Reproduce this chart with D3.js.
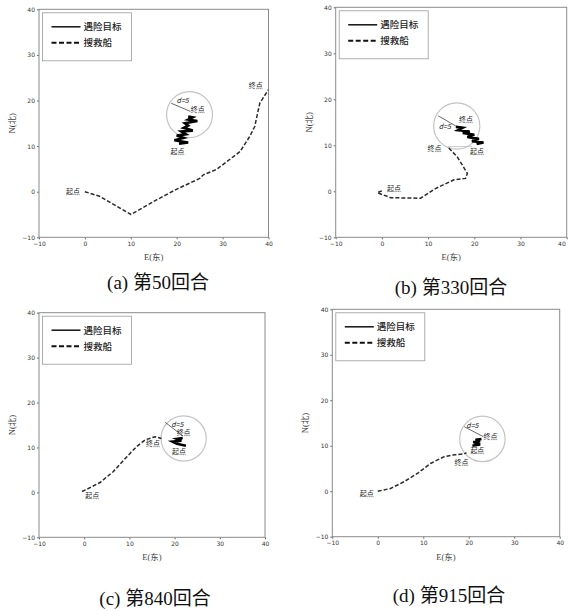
<!DOCTYPE html>
<html>
<head>
<meta charset="utf-8">
<script src="https://cdn.jsdelivr.net/npm/d3@7"></script>
<style>
  body { margin: 0; background: #fff; }
  .tick text { font-family: "DejaVu Sans", sans-serif; font-size: 6px; fill: #333; }
  .lbl { font-family: "Noto Sans CJK SC", sans-serif; font-size: 7px; fill: #222; }
  .axisText { font-family: "Liberation Serif", "Noto Sans CJK SC", serif; font-size: 8.5px; fill: #444; }
  .legText { font-family: "Noto Sans CJK SC", sans-serif; font-size: 9.5px; font-weight: 500; fill: #222; }
  .caption { font-family: "Liberation Serif", "Noto Sans CJK SC", serif; font-size: 19px; fill: #111; }
</style>
</head>
<body>
<div id="chart"></div>
<script>
// ticks shared by every panel
var tickValues = [-10, 0, 10, 20, 30, 40];
var captions = ["(a) 第50回合", "(b) 第330回合", "(c) 第840回合", "(d) 第915回合"];
var legendNames = ["遇险目标", "搜救船"];

// rescue ship tracks (E, N)
var shipA = [[0, 0], [3.2, -1], [10, -5], [15.6, -1.8], [19.9, 0.5], [25, 2.9], [25.8, 3.7], [28.7, 4.9], [33.8, 8.8], [35.9, 12.1], [37, 14.3], [38.1, 19.4], [40, 22.4]];
var shipB = [[0, 0.1], [-1, -0.3], [1.9, -1.4], [8.4, -1.5], [11.6, 0.6], [15.6, 2.5], [18.1, 2.8], [18.5, 3.9], [16.3, 7.5], [14.2, 9.7]];
var shipC = [[-0.5, 0.2], [0.6, 0.7], [3.5, 2.2], [6.4, 4.6], [9.4, 7.9], [11.6, 10.2], [13.5, 11.7], [15.7, 12.4], [17.1, 12]];
var shipD = [[0, 0], [2.8, 0.6], [5.8, 2.1], [8.7, 3.9], [11.6, 6.1], [14.6, 7.6], [16.8, 8], [19, 8.2], [19.5, 8.5]];

// distressed target tracks
var targetA = [[20.5, 10.5], [22.5, 10.8], [19.5, 11.3], [21.5, 11.8], [20, 12.3], [22, 12.6], [21, 13.2], [23.5, 13.4], [21.5, 14], [22.5, 14.5], [21.8, 15], [24.5, 15.5], [22.5, 15.8], [23.5, 16.3], [22.5, 16.5]];
var targetB = [[20.5, 10.3], [22, 10.6], [19.5, 10.9], [21, 11.4], [18.5, 11.8], [20, 12.3], [17.5, 12.7], [19, 13], [16.5, 13.3], [17.5, 13.8], [16, 14]];
var targetC = [[22.5, 10.4], [20.5, 10.8], [19.5, 11.3], [21.5, 11.5], [20.5, 11.9], [21.8, 12.1]];
var targetD = [[20.8, 10], [22.5, 10.3], [21, 10.8], [22.5, 11], [21.5, 11.3], [22.8, 11.5]];

// search circle centre, radius and the radius marker line
var circles = [[22.8, 16.9, 5], [16.2, 14.2, 5], [22, 12, 5], [23, 11.5, 5]];
var radiusLines = [[[18.8, 19.4], [23, 17.6]], [[12.2, 16.4], [16, 14.2]], [[17.9, 15.6], [21.8, 12.6]], [[19, 14.2], [23.2, 12]]];

// point labels: [text, E, N]
var labelsA = [["起点", -2.6, 0], ["终点", 37.2, 23.2], ["起点", 20.2, 8.7], ["终点", 24.6, 18], ["d=5", 21.3, 19.9]];
var labelsB = [["起点", 2.6, 0.6], ["终点", 11.4, 9.3], ["起点", 20.6, 8.6], ["终点", 18.2, 15.5], ["d=5", 13.6, 14]];
var labelsC = [["起点", 1.8, -0.7], ["终点", 15.2, 10.8], ["起点", 21, 9.1], ["终点", 22, 13.3], ["d=5", 20.6, 15.2]];
var labelsD = [["起点", -2.4, -0.5], ["终点", 18.4, 6.3], ["起点", 21.9, 8.9], ["终点", 24.8, 12.1], ["d=5", 20.8, 14.4]];

var panels = [
    { box: [39, 268.5, 9.3, 237.3], ship: shipA, target: targetA, labels: labelsA, capX: 158, capY: 289 },
    { box: [335.7, 566.7, 7.3, 237.3], ship: shipB, target: targetB, labels: labelsB, capX: 451, capY: 294, link: true },
    { box: [39, 265, 312.7, 537.3], ship: shipC, target: targetC, labels: labelsC, capX: 155, capY: 605 },
    { box: [332.3, 559.7, 309.3, 536.7], ship: shipD, target: targetD, labels: labelsD, capX: 449, capY: 602 }
];

var svg = d3.select("#chart")
    .append("svg")
    .attr("width", 568)
    .attr("height", 611);

panels.forEach(function(p, i) {
    var left = p.box[0], right = p.box[1], top = p.box[2], bottom = p.box[3];

    var x = d3.scaleLinear().domain([-10, 40]).range([left, right]);
    var y = d3.scaleLinear().domain([-10, 40]).range([bottom, top]);

    var g = svg.append("g");

    g.append("clipPath")
        .attr("id", "clip" + i)
        .append("rect")
        .attr("x", left).attr("y", top)
        .attr("width", right - left).attr("height", bottom - top);

    // axes with small outward ticks
    var xAxis = g.append("g")
        .attr("transform", `translate(0, ${bottom})`)
        .call(d3.axisBottom(x).tickValues(tickValues).tickSize(2).tickPadding(2))
        .call(a => a.select(".domain").remove())
        .call(a => a.selectAll("line").attr("stroke", "#666"));

    // last label would run off the page on the right-hand panels
    if (x(40) + 6 > 568) {
        xAxis.selectAll(".tick text").filter(d => d == 40).attr("text-anchor", "end").attr("dx", "-1.5");
    }

    g.append("g")
        .attr("transform", `translate(${left}, 0)`)
        .call(d3.axisLeft(y).tickValues(tickValues).tickSize(2).tickPadding(2))
        .call(a => a.select(".domain").remove())
        .call(a => a.selectAll("line").attr("stroke", "#666"));

    g.append("rect")
        .attr("x", left).attr("y", top)
        .attr("width", right - left).attr("height", bottom - top)
        .attr("fill", "none")
        .attr("stroke", "#8a8a8a")
        .attr("stroke-width", 1);

    // axis labels
    g.append("text")
        .attr("class", "axisText")
        .attr("x", (left + right) / 2)
        .attr("y", bottom + 23)
        .attr("text-anchor", "middle")
        .text("E(东)");

    g.append("text")
        .attr("class", "axisText")
        .attr("transform", `translate(${left - 27}, ${(top + bottom) / 2}) rotate(-90)`)
        .attr("text-anchor", "middle")
        .attr("dy", "0.35em")
        .text("N(北)");

    var plot = g.append("g").attr("clip-path", `url(#clip${i})`);
    var line = d3.line().x(d => x(d[0])).y(d => y(d[1]));

    // search circle
    var c = circles[i];
    plot.append("circle")
        .attr("cx", x(c[0]))
        .attr("cy", y(c[1]))
        .attr("r", x(c[2]) - x(0))
        .attr("fill", "none")
        .attr("stroke", "#c4c4c4")
        .attr("stroke-width", 1.2);

    plot.append("path")
        .attr("d", line(radiusLines[i]))
        .attr("fill", "none")
        .attr("stroke", "#444")
        .attr("stroke-width", 0.8);

    if (p.link) {
        plot.append("path")
            .attr("d", line([p.ship[p.ship.length - 1], [p.target[0][0] - 1, p.ship[p.ship.length - 1][1]]]))
            .attr("fill", "none")
            .attr("stroke", "#bbb")
            .attr("stroke-width", 0.8);
    }

    plot.append("path")
        .attr("d", line(p.target))
        .attr("fill", "none")
        .attr("stroke", "#000")
        .attr("stroke-width", 2.6)
        .attr("stroke-linejoin", "miter");

    plot.append("path")
        .attr("d", line(p.ship))
        .attr("fill", "none")
        .attr("stroke", "#2a2a2a")
        .attr("stroke-width", 1.5)
        .attr("stroke-dasharray", "4,2");

    // point labels
    g.selectAll(".lbl" + i)
        .data(p.labels)
        .enter()
        .append("text")
        .attr("class", "lbl")
        .attr("x", d => x(d[1]))
        .attr("y", d => y(d[2]))
        .attr("dy", "0.35em")
        .attr("text-anchor", "middle")
        .attr("font-style", d => d[0] == "d=5" ? "italic" : null)
        .text(d => d[0]);

    // legend
    var lx = left + 3.5, ly = top + 3.5;
    var leg = g.append("g");
    leg.append("rect")
        .attr("x", lx).attr("y", ly)
        .attr("width", 89).attr("height", 48)
        .attr("fill", "#fff")
        .attr("stroke", "#999")
        .attr("stroke-width", 0.8);

    legendNames.forEach(function(name, k) {
        var yy = ly + 14 + k * 16;
        leg.append("line")
            .attr("x1", lx + 9).attr("x2", lx + 38)
            .attr("y1", yy).attr("y2", yy)
            .attr("stroke", "#111")
            .attr("stroke-width", k == 0 ? 1.5 : 2)
            .attr("stroke-dasharray", k == 0 ? null : "5,2.5");
        leg.append("text")
            .attr("class", "legText")
            .attr("x", lx + 41)
            .attr("y", yy)
            .attr("dy", "0.35em")
            .text(name);
    });

    // caption
    svg.append("text")
        .attr("class", "caption")
        .attr("x", p.capX)
        .attr("y", p.capY)
        .attr("text-anchor", "middle")
        .text(captions[i]);
});
</script>
</body>
</html>
